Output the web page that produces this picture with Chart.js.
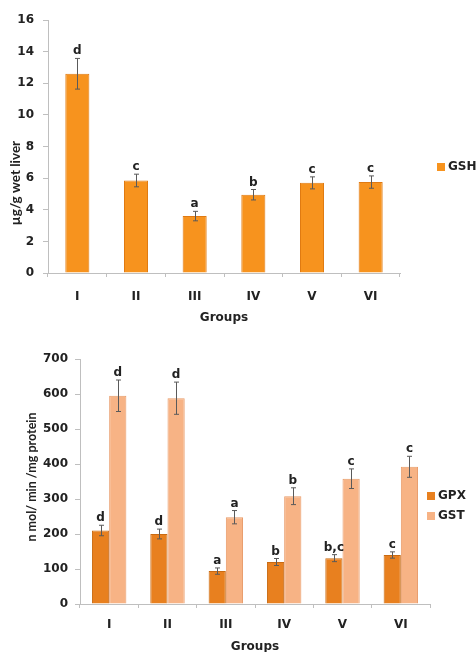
<!DOCTYPE html>
<html>
<head>
<meta charset="utf-8">
<script src="https://cdn.jsdelivr.net/npm/chart.js@4/dist/chart.umd.min.js"></script>
<style>
	html, body { margin: 0; padding: 0; background: #fff; overflow: hidden; }
	#gsh-chart { position: absolute; left: 0; top: 0; }
	#enz-chart { position: absolute; left: 0; top: 330px; }
</style>
</head>
<body>
<div id="gsh-chart"><canvas id="cnv_gsh" width="476" height="330"></canvas></div>
<div id="enz-chart"><canvas id="cnv_enz" width="476" height="330"></canvas></div>
<script>
// Groups on the x axis
const groups = ['I', 'II', 'III', 'IV', 'V', 'VI'];

// GSH (µg/g wet liver), mean and error, letters above bars
const gshMean = [12.6, 5.85, 3.6, 4.95, 5.7, 5.75];
const gshErr = [0.97, 0.4, 0.3, 0.33, 0.38, 0.39];
const gshLetters = ['d', 'c', 'a', 'b', 'c', 'c'];

// GPX and GST (n mol/ min /mg protein)
const gpxMean = [210, 200, 94, 120, 131, 140];
const gpxErr = [15, 14, 9, 10, 10, 9];
const gpxLetters = ['d', 'd', 'a', 'b', 'b,c', 'c'];
const gstMean = [595, 588, 248, 308, 358, 392];
const gstErr = [45, 46, 19, 24, 28, 30];
const gstLetters = ['d', 'd', 'a', 'b', 'c', 'c'];

Chart.defaults.font.family = "'DejaVu Sans', sans-serif";
Chart.defaults.font.weight = 'bold';
Chart.defaults.font.size = 12;
Chart.defaults.color = '#222';

const axisGrey = '#bfbfbf';

// error bars + significance letters
const errorBars = {
	id: 'errorBars',
	afterDatasetsDraw(chart) {
		const ctx = chart.ctx;
		const yScale = chart.scales.y;
		chart.data.datasets.forEach((ds, i) => {
			const meta = chart.getDatasetMeta(i);
			meta.data.forEach((bar, j) => {
				const top = yScale.getPixelForValue(ds.data[j] + ds.errors[j]);
				const bot = yScale.getPixelForValue(ds.data[j] - ds.errors[j]);
				const x = Math.round(bar.x) + 0.5;
				ctx.save();
				ctx.strokeStyle = '#5a5a5a';
				ctx.lineWidth = 1;
				ctx.beginPath();
				ctx.moveTo(x, top); ctx.lineTo(x, bot);
				ctx.moveTo(x - 2.5, top); ctx.lineTo(x + 2.5, top);
				ctx.moveTo(x - 2.5, bot); ctx.lineTo(x + 2.5, bot);
				ctx.stroke();
				ctx.fillStyle = '#222';
				ctx.font = "bold 12px 'DejaVu Sans'";
				ctx.textAlign = 'center';
				ctx.textBaseline = 'alphabetic';
				ctx.fillText(ds.letters[j], bar.x, top - 4);
				ctx.restore();
			});
		});
	}
};

// rotated y title and the legend on the right
const sideText = {
	id: 'sideText',
	afterDraw(chart, args, opts) {
		const ctx = chart.ctx;
		ctx.save();
		ctx.fillStyle = '#222';
		ctx.font = `bold ${opts.titleSize}px Lato`;
		ctx.textAlign = 'center';
		ctx.textBaseline = 'middle';
		ctx.translate(opts.titleX, opts.titleY);
		ctx.rotate(-Math.PI / 2);
		ctx.fillText(opts.title, 0, 0);
		ctx.restore();

		ctx.save();
		ctx.font = "bold 12px 'DejaVu Sans'";
		ctx.textBaseline = 'middle';
		chart.data.datasets.forEach((ds, i) => {
			const y = opts.legendY + i * opts.legendGap;
			ctx.fillStyle = ds.backgroundColor;
			ctx.fillRect(opts.legendX, y - 4, 8, 8);
			ctx.fillStyle = '#222';
			ctx.fillText(ds.label, opts.legendX + 11, y);
		});
		ctx.restore();
	}
};

const makeScales = ({ yMax, yStep, yWidth, yPad, xHeight, xPad, titlePad }) => ({
	x: {
		grid: { display: true, drawOnChartArea: false, offset: true, tickLength: 4, color: axisGrey },
		border: { color: axisGrey },
		ticks: { padding: xPad },
		title: { display: true, text: 'Groups', padding: { top: 0, bottom: titlePad } },
		afterFit(scale) { scale.height = xHeight; }
	},
	y: {
		min: 0,
		max: yMax,
		ticks: { stepSize: yStep, padding: yPad },
		grid: { drawOnChartArea: false, tickLength: 5, color: axisGrey },
		border: { color: axisGrey },
		afterFit(scale) { scale.width = yWidth; }
	}
});

new Chart(document.getElementById('cnv_gsh').getContext('2d'), {
	type: 'bar',
	plugins: [errorBars, sideText],
	data: {
		labels: groups,
		datasets: [{
			label: 'GSH',
			data: gshMean,
			errors: gshErr,
			letters: gshLetters,
			backgroundColor: '#F7931E',
			borderColor: '#E07A12',
			borderWidth: 1,
			barPercentage: 0.41,
			categoryPercentage: 1
		}]
	},
	options: {
		responsive: false,
		animation: false,
		layout: { padding: { top: 20, right: 76, left: 0, bottom: 0 } },
		plugins: {
			legend: { display: false },
			tooltip: { enabled: false },
			sideText: { title: 'µg/g wet liver', titleSize: 13.5, titleX: 16, titleY: 183, legendX: 437, legendY: 167, legendGap: 20 }
		},
		scales: makeScales({ yMax: 16, yStep: 2, yWidth: 48, yPad: 9, xHeight: 57, xPad: 13, titlePad: 5 })
	}
});

new Chart(document.getElementById('cnv_enz').getContext('2d'), {
	type: 'bar',
	plugins: [errorBars, sideText],
	data: {
		labels: groups,
		datasets: [{
			label: 'GPX',
			data: gpxMean,
			errors: gpxErr,
			letters: gpxLetters,
			backgroundColor: '#E8801F',
			borderColor: '#C96A12',
			borderWidth: 1,
			barPercentage: 1,
			categoryPercentage: 0.59
		}, {
			label: 'GST',
			data: gstMean,
			errors: gstErr,
			letters: gstLetters,
			backgroundColor: '#F7B385',
			borderColor: '#E89A68',
			borderWidth: 1,
			barPercentage: 1,
			categoryPercentage: 0.59
		}]
	},
	options: {
		responsive: false,
		animation: false,
		layout: { padding: { top: 29, right: 46, left: 0, bottom: 0 } },
		plugins: {
			legend: { display: false },
			tooltip: { enabled: false },
			sideText: { title: 'n mol/ min /mg protein', titleSize: 12.5, titleX: 32, titleY: 147, legendX: 427, legendY: 166, legendGap: 20 }
		},
		scales: makeScales({ yMax: 700, yStep: 100, yWidth: 80, yPad: 7, xHeight: 56, xPad: 10, titlePad: 6 })
	}
});
</script>
</body>
</html>
